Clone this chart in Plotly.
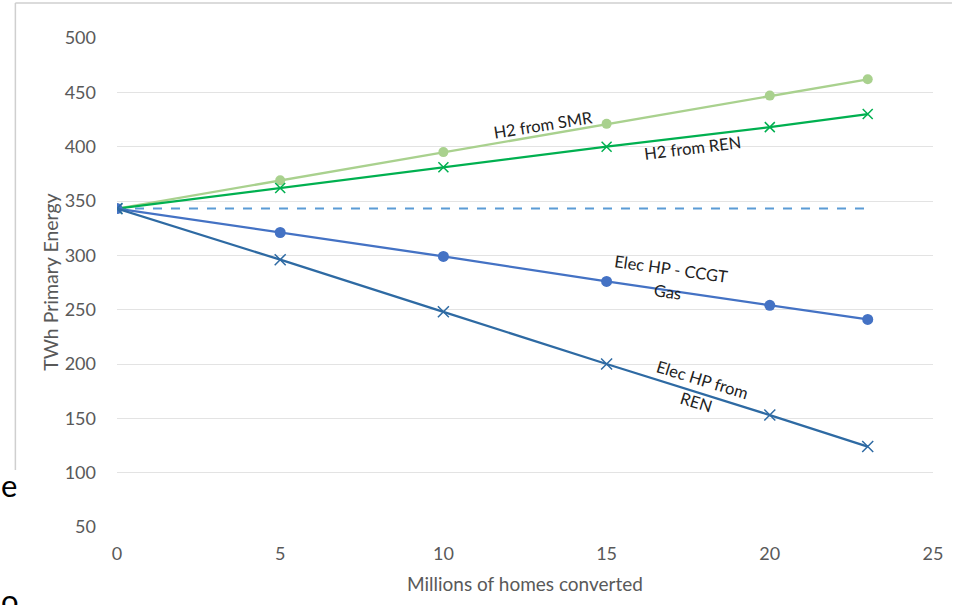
import plotly.graph_objects as go

homes = [0, 5, 10, 15, 20, 23]
h2_smr = [343, 369, 395, 421, 447, 462]
h2_ren = [343, 362, 381, 400, 418, 430]
elec_ccgt = [343, 321, 299, 276, 254, 241]
elec_ren = [343, 296, 248, 200, 153, 124]
baseline_x = [0, 23]
baseline_y = [343, 343]

x_ticks = [0, 5, 10, 15, 20, 25]
y_ticks = [50, 100, 150, 200, 250, 300, 350, 400, 450, 500]

FONT = "Lato, 'Open Sans', sans-serif"
fig = go.Figure()

fig.add_trace(go.Scatter(x=baseline_x, y=baseline_y, mode="lines",
                         line=dict(color="#5B9BD5", width=2, dash="dash")))
fig.add_trace(go.Scatter(x=homes, y=h2_smr, mode="lines+markers",
                         line=dict(color="#A9D18E", width=2.25),
                         marker=dict(symbol="circle", size=10, color="#A9D18E")))
fig.add_trace(go.Scatter(x=homes, y=h2_ren, mode="lines+markers",
                         line=dict(color="#00B050", width=2.25),
                         marker=dict(symbol="x-thin", size=10, color="#00B050",
                                     line=dict(color="#00B050", width=1.5))))
fig.add_trace(go.Scatter(x=homes, y=elec_ccgt, mode="lines+markers",
                         line=dict(color="#4472C4", width=2.25),
                         marker=dict(symbol="circle", size=11, color="#4472C4")))
fig.add_trace(go.Scatter(x=homes, y=elec_ren, mode="lines+markers",
                         line=dict(color="#2E6AA3", width=2.25),
                         marker=dict(symbol="x-thin", size=11, color="#2E6AA3",
                                     line=dict(color="#2E6AA3", width=1.5))))

labels = [
    ("H2 from SMR", 13.06, 420.4, -9),
    ("H2 from REN", 17.64, 398.8, -7),
    ("Elec HP - CCGT", 16.97, 287.4, 8),
    ("Gas", 16.88, 266.3, 8),
    ("Elec HP from", 17.95, 185.3, 17),
    ("REN", 17.73, 165.0, 17),
]
for t, x, y, a in labels:
    fig.add_annotation(x=x, y=y, text=t, showarrow=False, textangle=a,
                       xanchor="center", yanchor="middle",
                       font=dict(family=FONT, size=16.5, color="#222222"))

W, H, L, B = 819, 489, 117, 78


def px(xp):
    return (xp - L) / W


def py(yp):
    return (605 - yp - B) / H


fig.add_annotation(xref="paper", yref="paper", x=0.5, y=py(583),
                   xanchor="center", yanchor="middle",
                   text="Millions of homes converted", showarrow=False,
                   font=dict(family=FONT, size=19, color="#595959"))
fig.add_annotation(xref="paper", yref="paper", x=px(50), y=0.5,
                   xanchor="center", yanchor="middle", textangle=-90,
                   text="TWh Primary Energy", showarrow=False,
                   font=dict(family=FONT, size=19.5, color="#595959"))

# slide artifacts at the left edge
fig.add_annotation(xref="paper", yref="paper", x=px(-1), y=py(485),
                   xanchor="left", yanchor="middle",
                   text="e", showarrow=False,
                   font=dict(family=FONT, size=31, color="#000000"))
fig.add_annotation(xref="paper", yref="paper", x=px(-1), y=py(600),
                   xanchor="left", yanchor="middle", text="o", showarrow=False,
                   font=dict(family=FONT, size=31, color="#000000"))

# chart frame (top and left edges)
fig.add_shape(type="line", xref="paper", yref="paper",
              x0=px(15), y0=py(3), x1=px(15), y1=py(470),
              line=dict(color="#CFCFCF", width=1.5))
fig.add_shape(type="line", xref="paper", yref="paper",
              x0=px(15), y0=py(3), x1=px(955), y1=py(3),
              line=dict(color="#CFCFCF", width=1.5))

fig.update_layout(
    width=955, height=605,
    margin=dict(l=L, r=19, t=38, b=B),
    paper_bgcolor="white", plot_bgcolor="white",
    showlegend=False,
    font=dict(family=FONT, size=18, color="#595959"),
    xaxis=dict(range=[0, 25], tickvals=x_ticks, showgrid=False, zeroline=False,
               showline=False, ticks="", ticklabelstandoff=14,
               tickfont=dict(size=18, color="#595959")),
    yaxis=dict(range=[50, 500], tickvals=y_ticks, showgrid=True,
               gridcolor="#E3E3E3", gridwidth=1, zeroline=False, showline=False,
               ticks="", ticklabelstandoff=20,
               tickfont=dict(size=18, color="#595959")),
)

fig.write_html("out.html", config={"displayModeBar": False},
               post_script="document.body.style.margin='0';document.body.style.overflow='hidden';")
